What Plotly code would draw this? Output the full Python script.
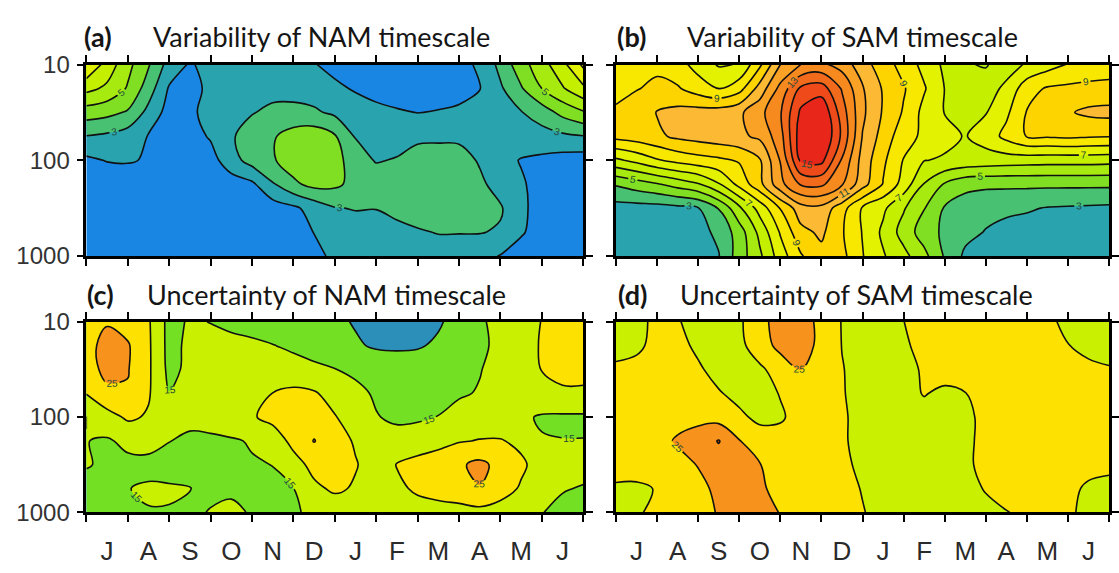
import plotly.graph_objects as go

# ---- grid: month axis (0 = start of July ... 12 = end of June) and pressure levels (hPa)
months_x = [0.0, 0.5, 1.0, 1.5, 2.0, 2.5, 3.0, 3.5, 4.0, 4.5, 5.0, 5.5, 6.0,
            6.5, 7.0, 7.5, 8.0, 8.5, 9.0, 9.5, 10.0, 10.5, 11.0, 11.5, 12.0]
pressure_hpa = [10, 17.8, 31.6, 56.2, 100, 178, 316, 562, 1000]

month_edges = [0, 1, 2, 3, 4, 5, 6, 7, 8, 9, 10, 11, 12]
month_centers = [0.5, 1.5, 2.5, 3.5, 4.5, 5.5, 6.5, 7.5, 8.5, 9.5, 10.5, 11.5]
month_labels = ["J", "A", "S", "O", "N", "D", "J", "F", "M", "A", "M", "J"]
pressure_ticks = [10, 100, 1000]
pressure_labels = ["10", "100", "1000"]

# ---- (a) variability of NAM timescale (days), rows = pressure levels top -> bottom
nam_variability = [
    [8.0, 6.6, 5.3, 4.1, 2.6, 1.9, 2.3, 2.4, 2.35, 2.25, 2.1, 2.05, 1.7, 1.5, 1.4, 1.4, 1.5, 1.6, 1.8, 2.1, 3.3, 4.6, 5.6, 6.7, 8.2],
    [6.3, 5.8, 4.9, 3.5, 1.9, 1.7, 2.2, 2.55, 2.7, 2.7, 2.6, 2.5, 2.2, 1.9, 1.6, 1.5, 1.5, 1.6, 1.8, 1.97, 2.85, 3.9, 5.0, 5.9, 6.8],
    [4.5, 4.3, 3.9, 2.7, 1.6, 1.8, 2.35, 2.7, 2.95, 3.2, 3.3, 3.15, 2.8, 2.5, 2.3, 2.1, 1.98, 2.05, 2.1, 2.3, 2.6, 2.95, 3.5, 4.3, 4.9],
    [2.96, 2.8, 2.5, 1.95, 1.5, 1.6, 2.1, 2.9, 3.4, 3.9, 4.4, 4.6, 4.1, 2.95, 2.7, 2.7, 2.8, 2.8, 2.8, 2.7, 2.6, 2.5, 2.6, 2.8, 2.95],
    [1.8, 2.05, 2.1, 1.9, 1.4, 1.4, 1.6, 2.6, 3.4, 3.9, 4.5, 4.9, 4.5, 3.3, 2.95, 3.05, 3.4, 3.5, 3.4, 2.9, 2.3, 1.95, 1.8, 1.6, 1.5],
    [1.4, 1.3, 1.3, 1.3, 1.3, 1.3, 1.4, 1.5, 1.8, 2.9, 3.8, 4.3, 4.2, 3.7, 3.4, 3.5, 3.6, 3.7, 3.6, 3.2, 2.6, 2.1, 1.7, 1.5, 1.4],
    [1.3, 1.3, 1.3, 1.3, 1.3, 1.3, 1.3, 1.3, 1.4, 1.5, 1.8, 2.4, 2.95, 3.05, 3.02, 3.2, 3.5, 3.7, 3.8, 3.6, 3.1, 2.2, 1.6, 1.4, 1.4],
    [1.3, 1.3, 1.3, 1.3, 1.3, 1.3, 1.3, 1.3, 1.3, 1.4, 1.6, 2.02, 2.4, 2.6, 2.7, 2.8, 2.9, 3.05, 3.05, 3.05, 2.9, 2.1, 1.6, 1.5, 1.4],
    [1.2, 1.2, 1.2, 1.2, 1.2, 1.2, 1.2, 1.2, 1.2, 1.3, 1.5, 1.8, 2.15, 2.3, 2.4, 2.5, 2.5, 2.5, 2.4, 2.3, 1.95, 1.6, 1.5, 1.5, 1.5],
]

# ---- (b) variability of SAM timescale (days)
sam_variability = [
    [8.7, 8.9, 8.8, 8.4, 7.6, 6.9, 7.05, 8.8, 11.0, 12.0, 12.2, 11.6, 10.4, 9.5, 8.6, 7.7, 6.8, 6.1, 5.9, 6.6, 7.1, 7.6, 8.05, 8.3, 8.5],
    [8.9, 8.95, 9.2, 9.1, 8.5, 7.95, 8.6, 10.4, 12.3, 14.2, 14.5, 12.9, 11.1, 9.9, 9.1, 8.1, 6.98, 6.5, 6.6, 7.2, 8.6, 9.1, 9.2, 9.3, 9.3],
    [9.05, 9.5, 10.05, 10.3, 10.4, 10.5, 10.8, 11.7, 12.9, 15.2, 15.9, 13.5, 11.2, 9.9, 8.9, 7.7, 6.97, 6.6, 6.95, 7.8, 9.05, 9.6, 9.9, 10.2, 10.3],
    [9.3, 9.5, 9.8, 10.2, 10.4, 10.6, 10.8, 11.2, 12.6, 15.6, 16.2, 13.8, 10.95, 9.6, 8.4, 7.8, 7.25, 6.95, 7.4, 8.3, 9.05, 9.1, 9.2, 9.1, 9.05],
    [6.8, 7.3, 7.9, 8.3, 8.6, 8.8, 9.1, 9.9, 12.05, 15.2, 15.3, 12.9, 10.6, 9.2, 7.95, 7.03, 6.9, 6.7, 6.6, 6.5, 6.45, 6.4, 6.4, 6.4, 6.35],
    [4.1, 4.5, 4.9, 5.4, 5.9, 6.9, 8.3, 9.7, 11.7, 13.1, 13.2, 12.1, 10.4, 8.95, 7.6, 5.95, 4.9, 4.3, 4.2, 4.2, 4.2, 4.2, 4.2, 4.2, 4.2],
    [2.6, 2.6, 2.6, 2.75, 2.95, 4.05, 5.8, 7.4, 9.05, 10.6, 10.7, 9.4, 7.9, 7.2, 6.1, 5.05, 3.9, 3.5, 3.3, 3.2, 3.1, 2.95, 2.9, 2.85, 2.8],
    [2.4, 2.4, 2.4, 2.5, 2.7, 3.2, 4.5, 6.3, 8.1, 9.7, 10.2, 9.1, 7.95, 6.8, 5.6, 4.5, 3.8, 3.3, 2.95, 2.7, 2.6, 2.55, 2.55, 2.55, 2.6],
    [2.3, 2.3, 2.3, 2.4, 2.6, 2.95, 4.5, 5.8, 7.5, 8.9, 9.7, 9.3, 8.05, 7.1, 6.3, 5.3, 3.9, 2.8, 2.6, 2.5, 2.5, 2.5, 2.5, 2.5, 2.5],
]

# ---- (c) uncertainty of NAM timescale (%)
nam_uncertainty = [
    [22.0, 24.5, 23.0, 20.6, 13.5, 15.5, 14.9, 14.2, 13.8, 13.5, 13.0, 12.3, 11.0, 9.6, 8.6, 8.3, 8.5, 9.4, 11.8, 14.3, 16.5, 18.5, 20.1, 21.0, 21.0],
    [23.0, 27.0, 25.5, 20.8, 13.5, 16.0, 16.3, 16.0, 15.6, 15.1, 14.5, 13.8, 12.5, 10.6, 9.4, 9.2, 9.5, 10.8, 12.8, 14.2, 16.0, 18.0, 20.4, 21.5, 21.5],
    [23.0, 26.3, 25.3, 20.8, 13.8, 16.0, 17.0, 17.0, 16.8, 16.4, 16.1, 15.6, 15.1, 14.2, 13.3, 12.8, 12.8, 13.2, 13.9, 14.8, 16.5, 18.5, 20.1, 21.0, 21.0],
    [20.2, 24.0, 24.5, 20.5, 15.1, 16.0, 17.5, 18.0, 18.5, 20.05, 21.3, 20.5, 18.0, 16.0, 14.5, 13.5, 13.3, 13.8, 14.5, 15.3, 16.5, 17.5, 18.8, 19.5, 19.5],
    [14.9, 18.0, 20.8, 19.5, 17.0, 16.0, 16.5, 17.5, 19.5, 21.5, 22.5, 22.5, 20.3, 17.5, 15.2, 14.3, 14.3, 15.1, 16.5, 17.5, 17.0, 15.8, 14.5, 14.3, 14.3],
    [15.1, 14.5, 16.0, 16.5, 15.1, 14.3, 14.3, 14.6, 15.3, 17.0, 21.5, 25.2, 22.0, 19.5, 15.5, 16.5, 17.5, 18.5, 19.7, 20.2, 20.3, 19.0, 15.3, 15.1, 15.1],
    [15.3, 14.3, 14.0, 13.8, 13.5, 13.5, 13.7, 14.2, 14.7, 15.05, 18.0, 21.5, 22.5, 20.3, 18.0, 20.2, 21.5, 22.5, 24.3, 26.2, 23.5, 20.8, 18.0, 16.5, 16.0],
    [13.5, 13.6, 14.9, 15.5, 15.4, 15.1, 14.2, 14.6, 14.5, 14.4, 14.9, 19.0, 20.8, 19.5, 17.5, 19.0, 20.8, 21.5, 22.5, 24.8, 22.0, 19.5, 16.5, 15.2, 14.8],
    [13.0, 13.5, 14.3, 14.8, 14.8, 14.3, 15.2, 15.5, 14.8, 14.3, 14.7, 15.5, 17.0, 17.2, 17.0, 17.5, 18.0, 18.5, 18.5, 18.5, 18.0, 16.5, 15.1, 14.2, 13.8],
]

# ---- (d) uncertainty of SAM timescale (%)
sam_uncertainty = [
    [18.0, 18.8, 21.0, 20.3, 18.5, 17.8, 19.2, 23.5, 27.0, 27.5, 23.5, 19.8, 18.5, 19.3, 19.95, 21.5, 22.0, 22.5, 22.5, 22.5, 22.0, 20.7, 19.2, 18.7, 18.5],
    [18.0, 19.0, 21.5, 21.5, 19.0, 18.0, 18.8, 22.5, 26.5, 27.0, 23.8, 19.9, 18.5, 19.0, 19.5, 21.0, 22.0, 22.5, 22.5, 22.5, 22.5, 22.0, 20.1, 19.0, 18.5],
    [21.0, 21.5, 22.0, 22.0, 20.7, 18.2, 17.8, 19.2, 22.0, 25.2, 22.5, 20.2, 18.5, 18.8, 19.2, 20.3, 21.5, 22.5, 22.8, 22.8, 22.8, 22.8, 21.5, 20.8, 20.3],
    [22.0, 22.5, 22.5, 22.5, 22.0, 20.4, 18.5, 18.5, 20.2, 22.5, 22.0, 20.3, 18.5, 18.5, 18.8, 20.2, 19.3, 19.9, 21.5, 22.3, 22.5, 22.5, 22.5, 22.3, 22.0],
    [22.0, 22.5, 22.8, 23.5, 23.8, 23.0, 21.0, 18.8, 19.5, 21.5, 22.0, 20.5, 18.8, 18.5, 18.6, 18.8, 19.0, 19.3, 20.8, 22.0, 22.5, 22.5, 22.5, 22.3, 22.0],
    [22.0, 22.5, 23.5, 25.5, 27.0, 30.3, 25.2, 22.5, 21.5, 22.0, 22.0, 20.5, 18.8, 18.5, 18.5, 18.5, 18.7, 19.2, 21.0, 22.3, 22.5, 22.5, 22.5, 22.3, 22.0],
    [21.5, 21.8, 22.5, 23.5, 25.2, 27.5, 27.5, 25.2, 22.5, 22.0, 22.0, 21.0, 19.0, 18.5, 18.3, 18.3, 18.5, 19.3, 21.0, 22.3, 22.5, 22.5, 22.0, 21.0, 20.8],
    [19.5, 19.3, 20.2, 22.0, 23.8, 26.0, 27.5, 26.0, 23.0, 22.0, 22.0, 21.3, 19.8, 18.5, 18.3, 18.3, 18.5, 19.0, 20.2, 22.0, 22.5, 22.0, 20.8, 19.5, 19.0],
    [18.5, 19.5, 21.0, 22.0, 23.5, 25.3, 27.5, 27.0, 24.8, 22.5, 22.0, 21.5, 20.2, 18.8, 18.3, 18.3, 18.5, 18.7, 19.2, 19.8, 21.0, 21.5, 20.5, 19.2, 18.8],
]

# ---- band colours (one per contour interval, lowest first)
variability_colors = ["#1a86e4", "#29a3ad", "#48c272", "#80df22", "#a6ea10",
                      "#c4f000", "#e2f200", "#f8e800", "#fdd400", "#fbb934",
                      "#f9a225", "#f68a1f", "#f26b1d", "#ee4a1a", "#e8261a"]
uncertainty_colors = ["#2b8fba", "#74e024", "#c8f000", "#fde100", "#f7921c", "#c84a10"]

LINE_COLOR = "#111111"
LABEL_COLOR = "#23483a"
SMOOTH = 1.0


def band_scale(colors):
    n = len(colors) - 1
    return [[i / n, c] for i, c in enumerate(colors)]


def add_panel(fig, z, xref, yref, start, end, size, colors):
    common = dict(x=months_x, y=pressure_hpa, z=z, xaxis=xref, yaxis=yref,
                  showscale=False, hoverinfo="skip", autocontour=False)
    # filled bands
    fig.add_trace(go.Contour(
        **common, colorscale=band_scale(colors),
        contours=dict(start=start, end=end, size=size, coloring="fill"),
        line=dict(width=0, smoothing=SMOOTH)))
    # unlabelled contour lines
    fig.add_trace(go.Contour(
        **common,
        contours=dict(start=start, end=end, size=2 * size, coloring="none"),
        line=dict(color=LINE_COLOR, width=1.6, smoothing=SMOOTH)))
    # labelled contour lines
    fig.add_trace(go.Contour(
        **common,
        contours=dict(start=start + size, end=end, size=2 * size, coloring="none",
                      showlabels=True,
                      labelfont=dict(family="Liberation Sans", size=10, color=LABEL_COLOR)),
        line=dict(color=LINE_COLOR, width=1.6, smoothing=SMOOTH)))


fig = go.Figure()
add_panel(fig, nam_variability, "x", "y", 2, 15, 1, variability_colors)
add_panel(fig, sam_variability, "x2", "y2", 2, 15, 1, variability_colors)
add_panel(fig, nam_uncertainty, "x3", "y3", 10, 30, 5, uncertainty_colors)
add_panel(fig, sam_uncertainty, "x4", "y4", 10, 30, 5, uncertainty_colors)

W, H = 1119, 573
left_dom = [87 / W, 588 / W]
right_dom = [621 / W, 1118 / W]
top_dom = [1 - 254 / H, 1 - 53 / H]
bot_dom = [1 - 523 / H, 1 - 323 / H]


def x_axis(domain, anchor, labels):
    return dict(domain=domain, anchor=anchor, range=[0, 12], showgrid=False, zeroline=False,
                showline=True, linecolor="black", linewidth=2.5, mirror="ticks",
                tickmode="array", tickvals=month_centers,
                ticktext=month_labels, showticklabels=labels, ticks="",
                ticklabelstandoff=14,
                tickfont=dict(family="Liberation Sans", size=26, color="#2a2a2a"),
                minor=dict(tickmode="array", tickvals=month_edges, ticks="outside",
                           ticklen=7, tickwidth=2, tickcolor="black"))


def y_axis(domain, anchor, labels):
    return dict(domain=domain, anchor=anchor, type="log", range=[3, 1], autorange=False,
                showgrid=False, zeroline=False, showline=True, linecolor="black",
                linewidth=2.5, mirror="ticks", tickmode="array", tickvals=pressure_ticks,
                ticktext=pressure_labels, showticklabels=labels, ticks="outside",
                ticklen=7, tickwidth=2, tickcolor="black", ticklabelstandoff=2,
                tickfont=dict(family="Liberation Sans", size=24, color="#333333"))


fig.update_layout(
    width=W, height=H, margin=dict(l=0, r=0, t=0, b=0),
    paper_bgcolor="white", plot_bgcolor="white", showlegend=False,
    xaxis=x_axis(left_dom, "y", False), yaxis=y_axis(top_dom, "x", True),
    xaxis2=x_axis(right_dom, "y2", False), yaxis2=y_axis(top_dom, "x2", False),
    xaxis3=x_axis(left_dom, "y3", True), yaxis3=y_axis(bot_dom, "x3", True),
    xaxis4=x_axis(right_dom, "y4", True), yaxis4=y_axis(bot_dom, "x4", False),
)

# panel titles
titles = [
    ("(a)", "Variability of NAM timescale", 83, 152, 24),
    ("(b)", "Variability of SAM timescale", 620, 691, 24),
    ("(c)", "Uncertainty of NAM timescale", 86, 146, 294),
    ("(d)", "Uncertainty of SAM timescale", 621, 683, 294),
]
for tag, text, x_tag, x_text, y_mid in titles:
    fig.add_annotation(text="<b>" + tag + "</b>", xref="paper", yref="paper",
                       x=x_tag / W, y=1 - y_mid / H, xanchor="left", yanchor="middle",
                       showarrow=False, font=dict(family="Lato", size=27, color="#151515"))
    fig.add_annotation(text=text, xref="paper", yref="paper",
                       x=x_text / W, y=1 - y_mid / H, xanchor="left", yanchor="middle",
                       showarrow=False, font=dict(family="Lato", size=27, color="#151515"))

fig.write_html("out.html")
